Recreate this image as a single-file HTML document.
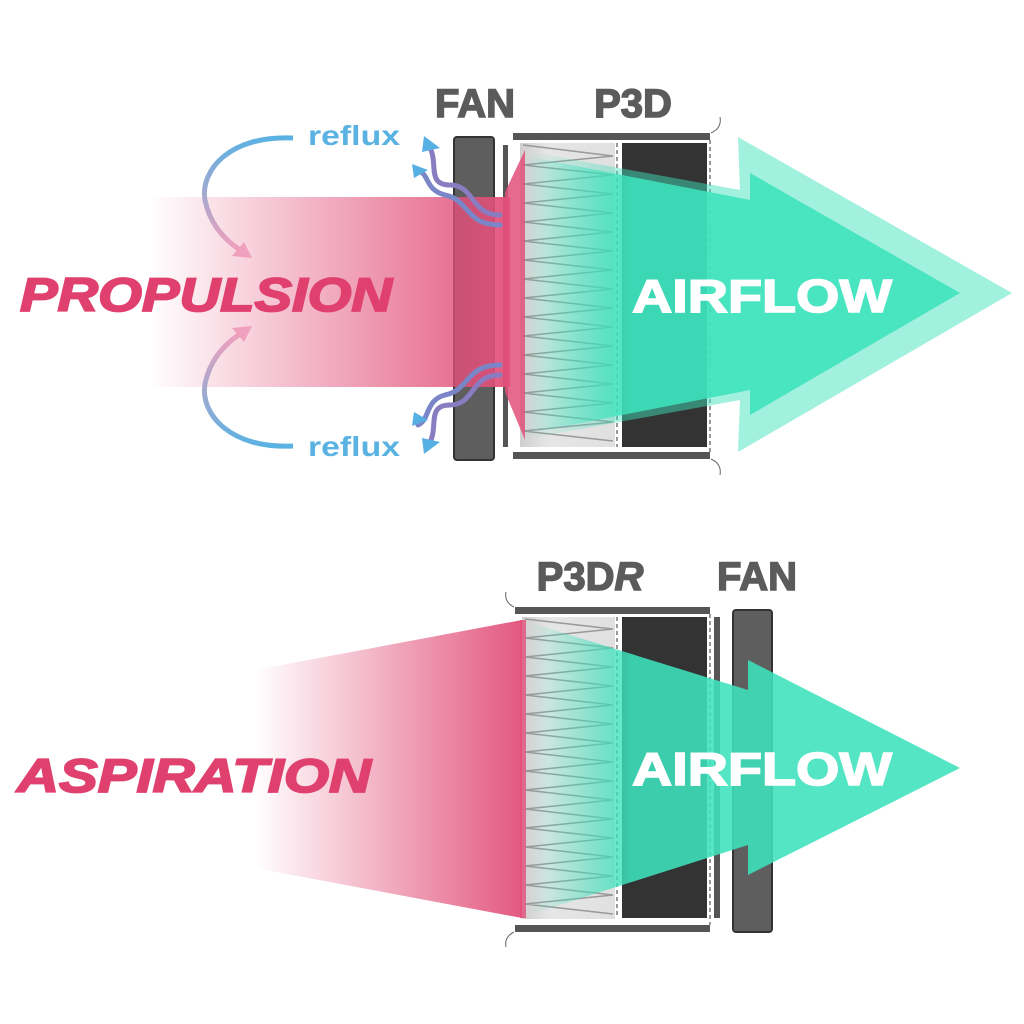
<!DOCTYPE html>
<html><head><meta charset="utf-8"><style>html,body{margin:0;padding:0;background:#fff}svg{display:block}</style></head>
<body>
<svg width="1024" height="1024" viewBox="0 0 1024 1024" xmlns="http://www.w3.org/2000/svg">
<defs>
<linearGradient id="pk" x1="150" x2="510" y1="0" y2="0" gradientUnits="userSpaceOnUse">
<stop offset="0" stop-color="#e2507a" stop-opacity="0"/><stop offset="1" stop-color="#e2507a" stop-opacity="0.95"/></linearGradient>
<linearGradient id="pk2" x1="255" x2="522" y1="0" y2="0" gradientUnits="userSpaceOnUse">
<stop offset="0" stop-color="#e2507a" stop-opacity="0"/><stop offset="1" stop-color="#e2507a" stop-opacity="0.95"/></linearGradient>
<linearGradient id="tl" x1="525" x2="630" y1="0" y2="0" gradientUnits="userSpaceOnUse">
<stop offset="0" stop-color="#3de2bc" stop-opacity="0"/><stop offset="1" stop-color="#3de2bc" stop-opacity="0.88"/></linearGradient>
<linearGradient id="tl2" x1="530" x2="630" y1="0" y2="0" gradientUnits="userSpaceOnUse">
<stop offset="0" stop-color="#3de2bc" stop-opacity="0"/><stop offset="1" stop-color="#3de2bc" stop-opacity="0.88"/></linearGradient>
<linearGradient id="arcg" x1="0" y1="0" x2="0" y2="1">
<stop offset="0" stop-color="#5ab2e2"/><stop offset="1" stop-color="#f0a0bc"/></linearGradient>
<linearGradient id="arcg2" x1="0" y1="1" x2="0" y2="0">
<stop offset="0" stop-color="#5ab2e2"/><stop offset="1" stop-color="#f0a0bc"/></linearGradient>
<linearGradient id="flt" x1="0" x2="1" y1="0" y2="0">
<stop offset="0" stop-color="#cfcfcf"/><stop offset="0.3" stop-color="#e6e6e6"/><stop offset="1" stop-color="#e0e0e0"/></linearGradient>
</defs>

<!-- TOP -->
<text x="475" y="117" font-family="Liberation Sans" font-weight="bold" font-size="40" fill="#5b5b5b" stroke="#5b5b5b" stroke-width="1.5" text-anchor="middle">FAN</text>
<text x="633" y="117" font-family="Liberation Sans" font-weight="bold" font-size="40" fill="#5b5b5b" stroke="#5b5b5b" stroke-width="1.5" text-anchor="middle">P3D</text>

<rect x="513" y="133" width="197" height="7" fill="#555"/>
<rect x="513" y="452" width="197" height="7" fill="#555"/>
<rect x="520" y="143" width="95" height="304" fill="url(#flt)"/>
<polyline fill="none" stroke="#999" stroke-width="1.5" points="523,145 613,156 523,165 613,175 523,184 613,194 523,203 613,213 523,222 613,232 523,241 613,251 523,260 613,270 523,279 613,289 523,298 613,308 523,317 613,327 523,336 613,346 523,355 613,365 523,374 613,384 523,393 613,403 523,412 613,422 523,431 613,441"/>
<line x1="617" y1="143" x2="617" y2="447" stroke="#fff" stroke-width="3"/>
<line x1="617" y1="143" x2="617" y2="447" stroke="#777" stroke-width="1.5" stroke-dasharray="4,3"/>
<rect x="622" y="143" width="85" height="304" fill="#333"/>
<line x1="710" y1="140" x2="710" y2="452" stroke="#fff" stroke-width="3"/>
<line x1="710" y1="140" x2="710" y2="452" stroke="#777" stroke-width="1.5" stroke-dasharray="4,3"/>
<path d="M711 133 Q722 128 720 117" fill="none" stroke="#666" stroke-width="1"/>
<path d="M711 459 Q722 464 720 475" fill="none" stroke="#666" stroke-width="1"/>

<rect x="454" y="137" width="40" height="323" rx="3" fill="#5e5e5e" stroke="#333" stroke-width="2"/>
<rect x="503" y="145" width="5" height="302" fill="#555"/>

<rect x="150" y="197" width="360" height="190" fill="url(#pk)"/>
<polygon points="505,192 525,150 525,440 505,392" fill="#e2507a" opacity="0.85"/>

<polygon points="520,150 740,190 738,137 1012,293 738,452 740,400 520,440" fill="url(#tl)" opacity="0.55"/>
<polygon points="520,155 750,200 750,173 960,293 750,415 750,390 520,435" fill="url(#tl)"/>

<g fill="none" stroke-width="5" stroke-linecap="round">
<path d="M500 215 C470 215 475 185 450 185 C425 185 440 160 428 145" stroke="#8a7cc0"/>
<path d="M500 225 C465 225 470 200 445 195 C425 190 430 175 418 170" stroke="#7a86c8"/>
<path d="M500 375 C470 375 475 405 450 405 C425 405 440 430 428 445" stroke="#8a7cc0"/>
<path d="M500 365 C465 365 470 390 445 395 C425 400 430 420 418 425" stroke="#7a86c8"/>
</g>
<g fill="#56b0e4">
<polygon points="424,136 440,148 422,152"/><polygon points="412,164 428,170 414,178"/>
<polygon points="424,454 440,442 422,438"/><polygon points="412,426 428,420 414,412"/>
</g>

<text x="632" y="312" font-family="Liberation Sans" font-weight="bold" font-size="46" fill="#fff" stroke="#fff" stroke-width="1.5" textLength="260" lengthAdjust="spacingAndGlyphs">AIRFLOW</text>

<text x="20" y="311" font-family="Liberation Sans" font-weight="bold" font-style="italic" font-size="47" fill="#e0406e" stroke="#e0406e" stroke-width="1.8" textLength="372" lengthAdjust="spacingAndGlyphs">PROPULSION</text>

<path d="M293 138 C230 135 200 170 205 200 C210 225 225 240 240 250" fill="none" stroke="url(#arcg)" stroke-width="5"/>
<polygon points="252,258 232,256 244,242" fill="#f0a0bc"/>
<path d="M293 446 C230 449 200 414 205 384 C210 359 225 344 240 334" fill="none" stroke="url(#arcg2)" stroke-width="5"/>
<polygon points="252,326 232,328 244,342" fill="#f0a0bc"/>
<text x="308" y="145" font-family="Liberation Sans" font-weight="bold" font-size="28" fill="#5ab2e2" textLength="92" lengthAdjust="spacingAndGlyphs">reflux</text>
<text x="308" y="456" font-family="Liberation Sans" font-weight="bold" font-size="28" fill="#5ab2e2" textLength="92" lengthAdjust="spacingAndGlyphs">reflux</text>

<!-- BOTTOM -->
<text x="590" y="590" font-family="Liberation Sans" font-weight="bold" font-size="40" fill="#5b5b5b" stroke="#5b5b5b" stroke-width="1.5" text-anchor="middle">P3D<tspan font-style="italic">R</tspan></text>
<text x="757" y="590" font-family="Liberation Sans" font-weight="bold" font-size="40" fill="#5b5b5b" stroke="#5b5b5b" stroke-width="1.5" text-anchor="middle">FAN</text>

<rect x="515" y="607" width="195" height="7" fill="#555"/>
<rect x="515" y="925" width="195" height="7" fill="#555"/>
<rect x="522" y="617" width="93" height="302" fill="url(#flt)"/>
<polyline fill="none" stroke="#999" stroke-width="1.5" points="525,619 613,629 525,638 613,648 525,657 613,667 525,676 613,686 525,695 613,705 525,714 613,724 525,733 613,743 525,752 613,762 525,771 613,781 525,790 613,800 525,809 613,819 525,828 613,838 525,847 613,857 525,866 613,876 525,885 613,895 525,904 613,914"/>
<line x1="617" y1="617" x2="617" y2="918" stroke="#fff" stroke-width="3"/>
<line x1="617" y1="617" x2="617" y2="918" stroke="#777" stroke-width="1.5" stroke-dasharray="4,3"/>
<rect x="622" y="617" width="85" height="301" fill="#333"/>
<line x1="710" y1="614" x2="710" y2="925" stroke="#fff" stroke-width="3"/>
<line x1="710" y1="614" x2="710" y2="925" stroke="#777" stroke-width="1.5" stroke-dasharray="4,3"/>
<rect x="714" y="617" width="6" height="301" fill="#555"/>
<rect x="733" y="610" width="39" height="322" rx="3" fill="#5e5e5e" stroke="#333" stroke-width="2"/>
<path d="M514 607 Q504 602 506 592" fill="none" stroke="#666" stroke-width="1"/>
<path d="M514 932 Q504 937 506 947" fill="none" stroke="#666" stroke-width="1"/>

<polygon points="255,670 522,620 522,918 255,868" fill="url(#pk2)"/>
<rect x="520" y="620" width="6" height="298" fill="#e2507a" opacity="0.8"/>

<polygon points="528,622 748,690 748,660 960,768 748,875 748,845 528,915" fill="url(#tl2)"/>

<text x="632" y="785" font-family="Liberation Sans" font-weight="bold" font-size="46" fill="#fff" stroke="#fff" stroke-width="1.5" textLength="260" lengthAdjust="spacingAndGlyphs">AIRFLOW</text>
<text x="17" y="792" font-family="Liberation Sans" font-weight="bold" font-style="italic" font-size="47" fill="#e0406e" stroke="#e0406e" stroke-width="1.8" textLength="354" lengthAdjust="spacingAndGlyphs">ASPIRATION</text>
</svg>
</body></html>
